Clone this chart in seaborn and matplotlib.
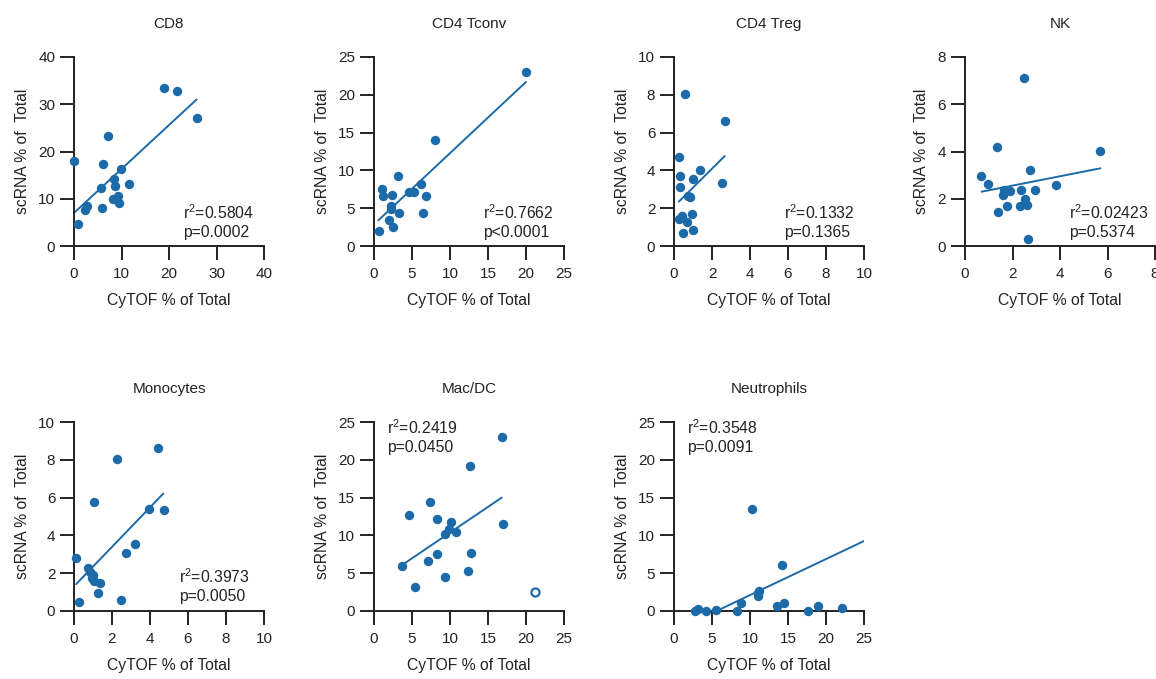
import numpy as np
import pandas as pd
import seaborn as sns
import matplotlib.pyplot as plt

# values (CyTOF % vs scRNA % of total)
cd8_cytof = [19.0, 21.6, 25.8, 7.1, 0.07, 6.1, 9.8, 8.5, 8.7, 5.7, 11.5, 9.2, 8.3, 9.5, 5.8, 2.7, 2.4, 0.85]
cd8_scrna = [33.5, 32.7, 27.0, 23.2, 18.0, 17.3, 16.3, 14.1, 12.6, 12.3, 13.2, 10.6, 9.9, 9.2, 8.0, 8.5, 7.7, 4.6]

tconv_cytof = [20.0, 8.0, 3.1, 1.0, 1.2, 2.4, 6.2, 4.6, 5.2, 6.8, 2.2, 2.3, 3.3, 6.5, 2.0, 2.5, 0.6]
tconv_scrna = [23.0, 14.0, 9.25, 7.6, 6.6, 6.8, 8.15, 7.2, 7.1, 6.6, 5.3, 4.85, 4.3, 4.4, 3.4, 2.5, 2.0]

treg_cytof = [0.56, 2.67, 0.28, 1.35, 0.30, 0.98, 0.33, 2.53, 0.72, 0.84, 0.93, 0.28, 0.44, 0.66, 0.45, 0.98]
treg_scrna = [8.06, 6.61, 4.73, 4.04, 3.70, 3.56, 3.14, 3.33, 2.65, 2.61, 1.68, 1.45, 1.59, 1.27, 0.71, 0.85]

nk_cytof = [2.47, 1.35, 5.70, 2.72, 0.69, 0.98, 3.85, 1.64, 1.90, 1.59, 2.35, 2.96, 2.51, 1.78, 2.33, 2.61, 1.40, 2.67]
nk_scrna = [7.12, 4.20, 4.01, 3.22, 2.95, 2.61, 2.57, 2.37, 2.31, 2.17, 2.36, 2.36, 2.00, 1.69, 1.71, 1.73, 1.42, 0.28]

mono_cytof = [4.40, 2.26, 1.05, 3.93, 4.74, 3.23, 2.74, 0.11, 0.72, 0.84, 1.02, 0.93, 1.07, 1.35, 1.26, 0.26, 2.46]
mono_scrna = [8.60, 8.04, 5.79, 5.40, 5.33, 3.54, 3.08, 2.83, 2.25, 2.05, 1.93, 1.73, 1.59, 1.50, 0.97, 0.50, 0.58]

macdc_cytof = [16.8, 12.6, 7.4, 4.6, 8.25, 10.1, 17.0, 9.9, 10.8, 9.3, 8.3, 12.8, 7.1, 3.64, 12.4, 9.3, 5.35]
macdc_scrna = [23.0, 19.2, 14.4, 12.7, 12.2, 11.8, 11.5, 10.8, 10.4, 10.2, 7.5, 7.65, 6.6, 5.9, 5.35, 4.5, 3.2]
macdc_outlier_cytof = [21.2]
macdc_outlier_scrna = [2.5]

neut_cytof = [10.2, 14.2, 11.2, 11.0, 11.1, 8.8, 14.5, 13.5, 18.9, 22.1, 3.2, 2.7, 4.2, 5.5, 8.3, 17.6]
neut_scrna = [13.5, 6.06, 2.7, 2.35, 2.0, 1.0, 1.1, 0.62, 0.66, 0.4, 0.27, 0.0, 0.0, 0.13, 0.0, 0.0]

titles = ["CD8", "CD4 Tconv", "CD4 Treg", "NK", "Monocytes", "Mac/DC", "Neutrophils"]
axis_max = [40, 25, 10, 8, 10, 25, 25]
axis_step = [10, 5, 2, 2, 2, 5, 5]
r2_text = ["0.5804", "0.7662", "0.1332", "0.02423", "0.3973", "0.2419", "0.3548"]
p_text = ["p=0.0002", "p<0.0001", "p=0.1365", "p=0.5374", "p=0.0050", "p=0.0450", "p=0.0091"]

# fitted lines as drawn in the reference
fit_slope = [0.930, 0.942, 1.0, 0.198, 1.044, 0.680, 0.477]
fit_icept = [7.0, 2.86, 2.09, 2.16, 1.305, 3.57, -2.67]
fit_xrange = [(0, 25.8), (0.57, 20.0), (0.26, 2.67), (0.70, 5.70), (0.11, 4.70), (3.42, 16.8), (2.7, 25.0)]

xs = [cd8_cytof, tconv_cytof, treg_cytof, nk_cytof, mono_cytof, macdc_cytof, neut_cytof]
ys = [cd8_scrna, tconv_scrna, treg_scrna, nk_scrna, mono_scrna, macdc_scrna, neut_scrna]

blue = "#1d6aa8"
ink = "#222222"

sns.set_style("ticks")
plt.rcParams['font.family'] = ['Liberation Sans', 'DejaVu Sans']
plt.rcParams.update({"font.size": 11, "axes.linewidth": 1.4,
                     "xtick.major.width": 1.4, "ytick.major.width": 1.4,
                     "xtick.major.size": 10, "ytick.major.size": 10,
                     "xtick.major.pad": 5, "ytick.major.pad": 3.5,
                     "xtick.labelsize": 11, "ytick.labelsize": 11,
                     "axes.edgecolor": ink, "xtick.color": ink, "ytick.color": ink,
                     "mathtext.fontset": "custom", "mathtext.rm": "Liberation Sans",
                     "mathtext.it": "Liberation Sans:italic"})

fig = plt.figure(figsize=(11.56, 6.79), dpi=100)

W, H = 1156, 679
lefts = [74, 374, 674, 965, 74, 374, 674]
bottoms = [246, 246, 246, 246, 611, 611, 611]
# stats text: (x, baseline of r2 line, baseline of p line) in axes fraction
txt_pos = [(0.574, 0.143, 0.048), (0.575, 0.143, 0.048), (0.579, 0.143, 0.048),
           (0.549, 0.143, 0.048), (0.554, 0.149, 0.053), (0.067, 0.936, 0.842),
           (0.067, 0.936, 0.842)]

for i in range(7):
    ax = fig.add_axes([lefts[i] / W, 1 - bottoms[i] / H, 190 / W, 189 / H])
    df = pd.DataFrame({"cytof": xs[i], "scrna": ys[i]})
    sns.scatterplot(data=df, x="cytof", y="scrna", color=blue, s=46, linewidth=0,
                    clip_on=False, zorder=3, ax=ax)
    if titles[i] == "Mac/DC":
        ax.scatter(macdc_outlier_cytof, macdc_outlier_scrna, s=34, facecolor="white",
                   edgecolor=blue, linewidth=1.6, clip_on=False, zorder=3)

    x0, x1 = fit_xrange[i]
    fx = np.array([x0, x1])
    ax.plot(fx, fit_slope[i] * fx + fit_icept[i], color=blue, lw=1.4, zorder=2)

    ticks = np.arange(0, axis_max[i] + 0.01, axis_step[i])
    ax.set_xlim(0, axis_max[i])
    ax.set_ylim(0, axis_max[i])
    ax.set_xticks(ticks)
    ax.set_yticks(ticks)
    ax.set_xticklabels([f"{t:g}" for t in ticks])
    ax.set_yticklabels([f"{t:g}" for t in ticks])

    ax.set_xlabel("CyTOF % of Total", labelpad=9, fontsize=11.3, color=ink)
    ax.set_ylabel("scRNA % of  Total", labelpad=6, fontsize=11.3, color=ink)
    ax.set_title(titles[i], pad=21, fontsize=11, color=ink)

    tx, ty1, ty2 = txt_pos[i]
    ax.text(tx, ty1, "r$^{2}$=" + r2_text[i], transform=ax.transAxes, va="baseline",
            ha="left", fontsize=11.3, color=ink)
    ax.text(tx, ty2, p_text[i], transform=ax.transAxes, va="baseline",
            ha="left", fontsize=11.3, color=ink)
    sns.despine(ax=ax)

plt.savefig("out.png", dpi=100)
